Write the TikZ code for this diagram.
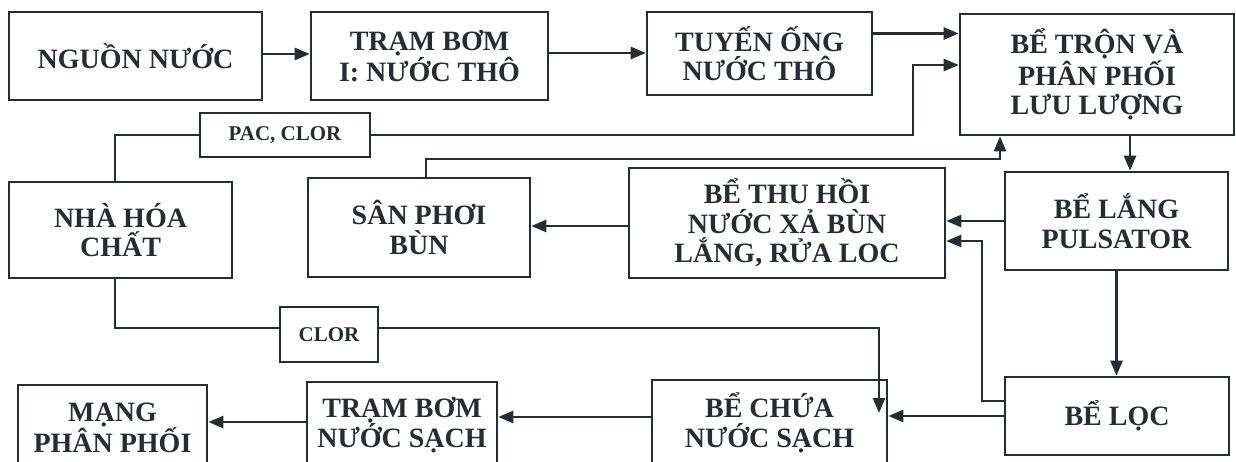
\documentclass[tikz,border=0pt]{standalone}
\usepackage{fontspec}
\setmainfont{Liberation Serif}
\usetikzlibrary{arrows.meta,calc}
\definecolor{ink}{RGB}{38,44,50}
\begin{document}
\begin{tikzpicture}[x=1pt,y=-1pt,
  box/.style={draw=ink,line width=2.6pt,text=ink,align=center,inner sep=0pt,
    font=\fontsize{28}{29.5}\selectfont\bfseries},
  tag/.style={box,font=\fontsize{21}{23}\selectfont\bfseries},
  flow/.style={draw=ink,line width=2.6pt,-{Triangle[length=15pt,width=12pt]}},
  wire/.style={draw=ink,line width=2.4pt}]
\useasboundingbox (0,0) rectangle (1236,462);
\clip (0,0) rectangle (1236,462);

% process units
\node[box,minimum width=253pt,minimum height=88pt] (src) at (135.5,56) {NGUỒN NƯỚC};
\node[box,minimum width=237pt,minimum height=88pt] (p1) at (429.5,56) {TRẠM BƠM\\I: NƯỚC THÔ};
\node[box,minimum width=225pt,minimum height=83pt] (pipe) at (759.5,53.5) {TUYẾN ỐNG\\NƯỚC THÔ};
\node[box,minimum width=274pt,minimum height=121pt] (mix) at (1097,74.5) {BỂ TRỘN VÀ\\PHÂN PHỐI\\LƯU LƯỢNG};
\node[tag,minimum width=170pt,minimum height=44pt] (pac) at (285,135) {PAC, CLOR};
\node[box,minimum width=223pt,minimum height=96pt] (chem) at (120.5,230) {NHÀ HÓA\\CHẤT};
\node[box,minimum width=222pt,minimum height=99pt] (dry) at (419,227.5) {SÂN PHƠI\\BÙN};
\node[box,minimum width=316pt,minimum height=110pt] (rec) at (787,223) {BỂ THU HỒI\\NƯỚC XẢ BÙN\\LẮNG, RỬA LOC};
\node[box,minimum width=223pt,minimum height=98pt] (settle) at (1116.5,221) {BỂ LẮNG\\PULSATOR};
\node[tag,minimum width=98pt,minimum height=55pt] (clor) at (329,334.5) {CLOR};
\node[box,minimum width=224pt,minimum height=78pt] (filt) at (1117,416) {BỂ LỌC};
\node[box,minimum width=235pt,minimum height=86pt] (store) at (769.5,423) {BỂ CHỨA\\NƯỚC SẠCH};
\node[box,minimum width=190pt,minimum height=86pt] (p2) at (402,425) {TRẠM BƠM\\NƯỚC SẠCH};
\node[box,minimum width=189pt,minimum height=86pt] (net) at (112.5,428) {MẠNG\\PHÂN PHỐI};

% bend points of the routed pipes
\coordinate (pacturn) at (913,0);
\coordinate (ret) at (982,0);
\coordinate (drt) at (1000,159);
\coordinate (join) at (879,413);

% main treatment line
\draw[flow] ([yshift=2pt]src.east) -- ([yshift=2pt]src.east -| p1.west);
\draw[flow] ([yshift=3pt]p1.east) -- ([yshift=3pt]p1.east -| pipe.west);
\draw[flow] ([yshift=20pt]pipe.east) -- ([yshift=20pt]pipe.east -| mix.west);
\draw[flow] ([xshift=33pt]mix.south) -- ([xshift=33pt]mix.south |- settle.north);
\draw[flow] (settle.south) -- (settle.south |- filt.north);
\draw[flow] (filt.west) -- (filt.west -| store.east);
\draw[flow] ([yshift=6pt]store.west) -- ([yshift=6pt]store.west -| p2.east);
\draw[flow] ([yshift=3pt]p2.west) -- ([yshift=3pt]p2.west -| net.east);

% chemical dosing
\draw[flow] (pac.east) -- (pac.east -| pacturn) |- ([yshift=9.5pt]mix.west);
\draw[wire] (pac.west) -| ([xshift=-5.5pt]chem.north);
\draw[wire] ([xshift=-5.5pt]chem.south) |- ([yshift=6.5pt]clor.west);
\draw[flow] ([yshift=6.5pt]clor.east) -| (join);

% sludge and wash water recovery
\draw[flow] (settle.west) -- (settle.west -| rec.east);
\draw[flow] ([yshift=15pt]filt.west) -- ([yshift=15pt]filt.west -| ret) |- ([yshift=-18pt]rec.east);
\draw[flow] ([yshift=-3pt]rec.west) -- ([yshift=-3pt]rec.west -| dry.east);
\draw[flow] ([xshift=7pt]dry.north) |- (drt) -- (drt |- mix.south);
\end{tikzpicture}
\end{document}
